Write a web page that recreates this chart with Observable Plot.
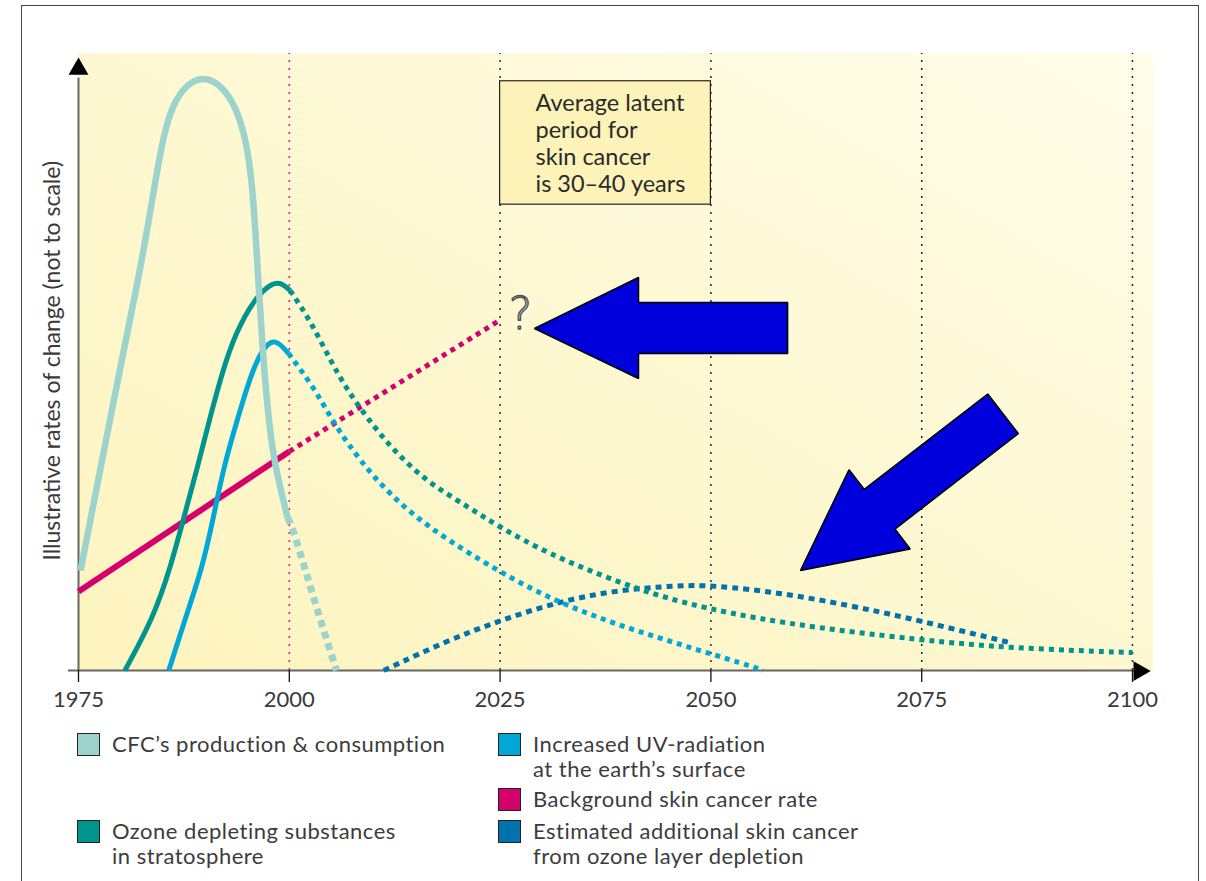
<!DOCTYPE html>
<html>
<head>
<meta charset="utf-8">
<script src="https://cdn.jsdelivr.net/npm/d3@7"></script>
<script src="https://cdn.jsdelivr.net/npm/@observablehq/plot@0.6"></script>
<style>
  html, body { margin: 0; padding: 0; background: #fff; overflow: hidden; }
  #wrap { position: relative; width: 1206px; height: 881px; font-family: Lato, "Open Sans", sans-serif; color: #333; }
  #frame { position: absolute; left: 21px; top: 5px; width: 1178px; height: 900px; border: 1.5px solid #444; box-sizing: border-box; }
  #chart { position: absolute; left: 0; top: 0; }
  .item { position: absolute; display: flex; align-items: flex-start; }
  .sw { width: 23px; height: 23px; border: 1px solid #222; box-sizing: border-box; margin-right: 12px; flex: none; }
  .lab { font-size: 22px; line-height: 24.5px; letter-spacing: 0.5px; color: #3c3c3c; white-space: nowrap; margin-top: -1px; }
</style>
</head>
<body>
<div id="wrap">
  <div id="frame"></div>
  <div id="chart"></div>
  <div id="legend"></div>
</div>
<script>
// ---- tick labels ----
const tickYears = [1975, 2000, 2025, 2050, 2075, 2100];
const blackGuideYears = [2025, 2050, 2075, 2100];
const redGuideYears = [2000];

// ---- series (year, illustrative value 0-100) ----
const cfcSolid = [[1975.24,16.2],[1980.34,51.9],[1982.0,62.7],[1983.4,73.4],[1984.5,82.5],[1985.3,87.8],[1986.2,91.6],[1987.6,94.8],[1989.82,96.4],[1992.0,94.8],[1993.7,91.3],[1994.9,85.9],[1995.6,78.9],[1996.0,70.8],[1996.35,62.7],[1996.83,51.9],[1997.6,39.5],[1998.4,32.5],[1999.79,24.8]];
const cfcDashed = [[1999.79,24.8],[2000.38,23.2],[2001.92,16.2],[2003.7,8.1],[2005.6,0]];

const ozoneSolid = [[1980.5,0],[1983.9,8.6],[1985.9,16.7],[1987.5,24.8],[1989.1,32.9],[1990.5,40.5],[1992.1,48.6],[1993.6,54.6],[1995.9,60.4],[1998.1,63.0],[1999.2,62.7],[2000.1,61.6]];
const ozoneDotted = [[2000.1,61.6],[2002.5,56.7],[2004.9,50.2],[2006.9,45.4],[2009.3,40.8],[2012.4,35.6],[2016.4,30.5],[2021.1,26.6],[2025.0,23.2],[2030.6,19.0],[2038.4,14.6],[2046.4,10.9],[2058.3,7.6],[2075.0,4.9],[2085.8,3.6],[2100,2.9]];

const uvSolid = [[1985.7,0],[1987.7,8.6],[1989.7,16.7],[1991.0,24.8],[1992.2,32.9],[1993.9,41.0],[1995.6,48.6],[1996.9,52.3],[1998.3,53.9],[1999.9,51.4]];
const uvDotted = [[1999.9,51.4],[2002.9,45.9],[2004.9,41.0],[2006.9,36.8],[2010.0,31.3],[2014.0,25.9],[2018.8,21.1],[2024.7,16.2],[2030.6,11.8],[2038.4,7.6],[2046.4,4.2],[2054.3,0.9],[2056.2,0]];

const bgCancerSolid = [[1975,12.8],[2000,35.5]];
const bgCancerDotted = [[2000,35.5],[2025,56.8]];

const extraCancerDotted = [[2011.2,0],[2018.8,4.9],[2025.0,8.1],[2031.3,10.9],[2038.4,13.0],[2046.4,13.8],[2050.3,13.8],[2058.3,12.6],[2066.6,10.5],[2073.1,8.6],[2080.4,6.2],[2085.5,4.5]];

// ---- annotations ----
const latentBox = [{x1: 2025, x2: 2050, y1: 75.5, y2: 95.5}];
const latentText = "Average latent\nperiod for\nskin cancer\nis 30–40 years";
const arrowLeft = [[2029.08,55.43],[2041.41,63.70],[2041.41,59.64],[2059.09,59.64],[2059.09,51.38],[2041.41,51.38],[2041.41,47.33]];
const arrowDiag = [[2060.63,16.21],[2066.38,32.54],[2068.19,29.34],[2082.83,44.81],[2086.45,38.40],[2071.82,22.92],[2073.63,19.71]];

const legendItems = [
  {label: "CFC’s production &amp; consumption", color: "#9dd3cd", left: 77, top: 733},
  {label: "Ozone depleting substances<br>in stratosphere", color: "#00948e", left: 77, top: 820},
  {label: "Increased UV-radiation<br>at the earth’s surface", color: "#00a8d8", left: 498, top: 733},
  {label: "Background skin cancer rate", color: "#d4006c", left: 498, top: 788},
  {label: "Estimated additional skin cancer<br>from ozone layer depletion", color: "#0072ae", left: 498, top: 820}
];

const C = {cfc: "#9dd3cd", ozone: "#00948e", uv: "#00a8d8", bg: "#d4006c", extra: "#0072ae"};

const lineOpts = (data, color, w, dash) => Plot.line(data, {
  x: d => d[0], y: d => d[1], stroke: color, strokeWidth: w,
  strokeDasharray: dash, strokeLinecap: "butt", strokeLinejoin: "round", curve: "basis"
});

const chart = Plot.plot({
  width: 1206,
  height: 715,
  marginLeft: 78,
  marginRight: 74,
  marginTop: 53,
  marginBottom: 45,
  x: {domain: [1975, 2100], axis: null},
  y: {domain: [0, 100], axis: null},
  style: {fontFamily: "Lato, 'Open Sans', sans-serif", background: "transparent", color: "#222", overflow: "visible"},
  marks: [
    Plot.rect([{x1: 1975, x2: 2102.5, y1: 0, y2: 100}], {x1: "x1", x2: "x2", y1: "y1", y2: "y2", fill: "url(#bgGrad)"}),
    Plot.ruleX(redGuideYears, {y1: 0, y2: 100, stroke: "#e0207a", strokeWidth: 1.6, strokeDasharray: "2,6"}),
    Plot.ruleX(blackGuideYears, {y1: 0, y2: 100, stroke: "#222", strokeWidth: 1.5, strokeDasharray: "2,6"}),
    Plot.rect(latentBox, {x1: "x1", x2: "x2", y1: "y1", y2: "y2", fill: "#fdf3b8", stroke: "#222", strokeWidth: 1.2}),
    Plot.text([latentText], {x: 2029.2, y: 85.5, text: d => d, textAnchor: "start", lineAnchor: "middle", lineHeight: 1.15, fontSize: 23.5, fill: "#2a2a2a"}),
    // axis lines
    Plot.ruleY([0], {x1: 1973.8, x2: 2100.5, stroke: "#666", strokeWidth: 2}),
    Plot.ruleX([1975], {y1: 0, y2: 96, stroke: "#666", strokeWidth: 2}),
    Plot.axisX({ticks: tickYears, tickFormat: "d", tickSize: 12, tickPadding: 9, fontSize: 22, stroke: "#111", strokeWidth: 1.3, fill: "#3a3a3a"}),
    Plot.dot([[1975, 97.5]], {x: d => d[0], y: d => d[1], symbol: "triangle", r: 7.4, fill: "#000", stroke: "none"}),
    Plot.dot([[2100.8, -0.1]], {x: d => d[0], y: d => d[1], symbol: "triangle", r: 7.4, rotate: 90, fill: "#000", stroke: "none"}),
    // series
    lineOpts(bgCancerSolid, C.bg, 6, null),
    lineOpts(bgCancerDotted, C.bg, 5, "5,5"),
    lineOpts(extraCancerDotted, C.extra, 5, "6,5"),
    lineOpts(uvSolid, C.uv, 5, null),
    lineOpts(uvDotted, C.uv, 5, "5,5"),
    lineOpts(ozoneSolid, C.ozone, 5, null),
    lineOpts(ozoneDotted, C.ozone, 5, "5,5"),
    lineOpts(cfcSolid, C.cfc, 6.5, null),
    lineOpts(cfcDashed, C.cfc, 7, "7,5"),
    // question mark and arrows
    Plot.text(["?"], {x: 2027.4, y: 57.6, text: d => d, fontSize: 44, fill: "#dcdcdc", stroke: "#505050", strokeWidth: 1.4, paintOrder: "normal", fontFamily: "DejaVu Sans", fontWeight: 300}),
    Plot.line(arrowLeft, {x: d => d[0], y: d => d[1], curve: "linear-closed", fill: "#0000dc", stroke: "#000", strokeWidth: 1.6, strokeLinejoin: "miter"}),
    Plot.line(arrowDiag, {x: d => d[0], y: d => d[1], curve: "linear-closed", fill: "#0000dc", stroke: "#000", strokeWidth: 1.6, strokeLinejoin: "miter"}),
    // y label
    Plot.text(["Illustrative rates of change (not to scale)"], {x: 1971.9, y: 50.2, text: d => d, rotate: -90, fontSize: 23, fill: "#3a3a3a"})
  ]
});

const ns = "http://www.w3.org/2000/svg";
const defs = document.createElementNS(ns, "defs");
defs.innerHTML = '<linearGradient id="bgGrad" x1="0" y1="1" x2="1" y2="0">' +
  '<stop offset="0" stop-color="#fdf4be"/><stop offset="0.5" stop-color="#fef8d2"/><stop offset="1" stop-color="#fffce9"/></linearGradient>';
chart.insertBefore(defs, chart.firstChild);
document.getElementById("chart").appendChild(chart);

const leg = document.getElementById("legend");
for (const it of legendItems) {
  const d = document.createElement("div");
  d.className = "item";
  d.style.left = it.left + "px";
  d.style.top = it.top + "px";
  d.innerHTML = `<div class="sw" style="background:${it.color}"></div><div class="lab">${it.label}</div>`;
  leg.appendChild(d);
}
</script>
</body>
</html>
